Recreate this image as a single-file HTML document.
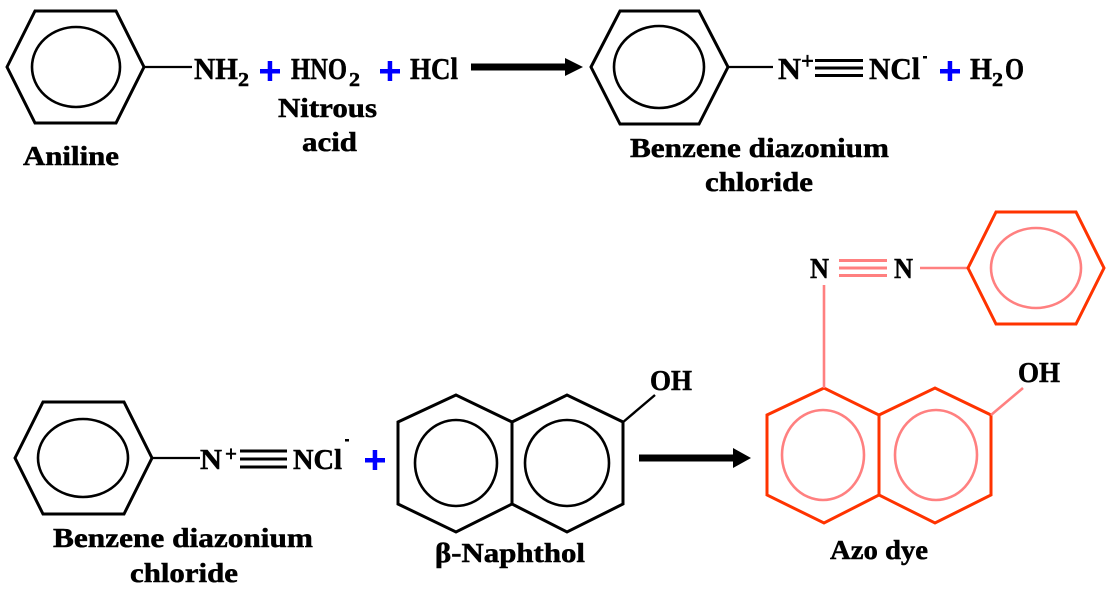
<!DOCTYPE html>
<html><head><meta charset="utf-8"><style>
html,body{margin:0;padding:0;background:#fff;}
svg{display:block;}
text{font-family:"Liberation Serif",serif;font-weight:bold;fill:#000;stroke:#000;stroke-width:0.5;}
</style></head><body>
<svg width="1117" height="596" viewBox="0 0 1117 596" xmlns="http://www.w3.org/2000/svg">
<!-- Aniline -->
<polygon points="7,67 35,11 116,11 144,67 116,123 35,123" fill="none" stroke="#000" stroke-width="3"/>
<ellipse cx="76" cy="67" rx="44" ry="40" fill="none" stroke="#000" stroke-width="2.6"/>
<line x1="144" y1="67" x2="192" y2="67" stroke="#000" stroke-width="2.2"/>
<text x="194" y="79" font-size="31" textLength="44" lengthAdjust="spacingAndGlyphs">NH</text>
<text x="238" y="86" font-size="20" textLength="11" lengthAdjust="spacingAndGlyphs">2</text>
<rect x="260" y="69" width="20" height="4.5" fill="#0000ff"/><rect x="267.7" y="61" width="4.5" height="20" fill="#0000ff"/>
<text x="291" y="79" font-size="31" textLength="56" lengthAdjust="spacingAndGlyphs">HNO</text>
<text x="349" y="86" font-size="20" textLength="11" lengthAdjust="spacingAndGlyphs">2</text>
<rect x="380" y="69" width="20" height="4.5" fill="#0000ff"/><rect x="387.7" y="61" width="4.5" height="20" fill="#0000ff"/>
<text x="410" y="79" font-size="31" textLength="48" lengthAdjust="spacingAndGlyphs">HCl</text>
<text x="278" y="117" font-size="27" textLength="99" lengthAdjust="spacingAndGlyphs">Nitrous</text>
<text x="302" y="151" font-size="27" textLength="55" lengthAdjust="spacingAndGlyphs">acid</text>
<text x="23" y="165" font-size="27" textLength="96" lengthAdjust="spacingAndGlyphs">Aniline</text>
<!-- arrow 1 -->
<line x1="471" y1="67" x2="567" y2="67" stroke="#000" stroke-width="7"/>
<polygon points="565,58 583,67 565,76" fill="#000"/>
<!-- Benzene diazonium top -->
<polygon points="591,67 620,11 699,11 728,67 699,124 620,124" fill="none" stroke="#000" stroke-width="3"/>
<ellipse cx="659" cy="67" rx="45" ry="41" fill="none" stroke="#000" stroke-width="2.6"/>
<line x1="728" y1="67" x2="773" y2="67" stroke="#000" stroke-width="2.2"/>
<text x="778" y="79" font-size="31" textLength="23" lengthAdjust="spacingAndGlyphs">N</text>
<text x="801" y="69" font-size="24" textLength="13" lengthAdjust="spacingAndGlyphs">+</text>
<line x1="815" y1="60.5" x2="863" y2="60.5" stroke="#000" stroke-width="3"/>
<line x1="815" y1="68" x2="863" y2="68" stroke="#000" stroke-width="3"/>
<line x1="815" y1="75.5" x2="863" y2="75.5" stroke="#000" stroke-width="3"/>
<text x="869" y="79" font-size="31" textLength="51" lengthAdjust="spacingAndGlyphs">NCl</text>
<rect x="923" y="56" width="4" height="2.5" fill="#000"/>
<rect x="940" y="69" width="20" height="4.5" fill="#0000ff"/><rect x="947.7" y="61" width="4.5" height="20" fill="#0000ff"/>
<text x="970" y="79" font-size="31" textLength="22" lengthAdjust="spacingAndGlyphs">H</text>
<text x="992" y="86" font-size="20" textLength="11" lengthAdjust="spacingAndGlyphs">2</text>
<text x="1005" y="79" font-size="31" textLength="19" lengthAdjust="spacingAndGlyphs">O</text>
<text x="630" y="157" font-size="27" textLength="259" lengthAdjust="spacingAndGlyphs">Benzene diazonium</text>
<text x="705" y="191" font-size="27" textLength="108" lengthAdjust="spacingAndGlyphs">chloride</text>
<!-- bottom benzene diazonium -->
<polygon points="15,458 43,402 124,402 152,458 124,514 43,514" fill="none" stroke="#000" stroke-width="3"/>
<ellipse cx="83" cy="458" rx="45" ry="39" fill="none" stroke="#000" stroke-width="2.6"/>
<line x1="152" y1="458" x2="200" y2="458" stroke="#000" stroke-width="2.2"/>
<text x="200" y="469" font-size="28" textLength="22" lengthAdjust="spacingAndGlyphs">N</text>
<text x="225" y="461" font-size="22" textLength="12" lengthAdjust="spacingAndGlyphs">+</text>
<line x1="240" y1="451" x2="287" y2="451" stroke="#000" stroke-width="3"/>
<line x1="240" y1="459" x2="287" y2="459" stroke="#000" stroke-width="3"/>
<line x1="240" y1="467" x2="287" y2="467" stroke="#000" stroke-width="3"/>
<text x="293" y="469" font-size="28" textLength="49" lengthAdjust="spacingAndGlyphs">NCl</text>
<rect x="345" y="439" width="4" height="2.5" fill="#000"/>
<rect x="365" y="458" width="20" height="4.5" fill="#0000ff"/><rect x="372.7" y="450" width="4.5" height="20" fill="#0000ff"/>
<text x="53" y="547" font-size="27" textLength="260" lengthAdjust="spacingAndGlyphs">Benzene diazonium</text>
<text x="130" y="582" font-size="27" textLength="108" lengthAdjust="spacingAndGlyphs">chloride</text>
<!-- beta-naphthol -->
<polygon points="456,395 398,422 398,504 456,532 512,504 512,422" fill="none" stroke="#000" stroke-width="3"/>
<polygon points="512,422 567,395 623,422 623,504 567,532 512,504" fill="none" stroke="#000" stroke-width="3"/>
<ellipse cx="456" cy="463" rx="41" ry="43" fill="none" stroke="#000" stroke-width="2.6"/>
<ellipse cx="567" cy="463" rx="42" ry="43" fill="none" stroke="#000" stroke-width="2.6"/>
<line x1="622" y1="423" x2="655" y2="395" stroke="#000" stroke-width="2.4"/>
<text x="650" y="390" font-size="28" textLength="42" lengthAdjust="spacingAndGlyphs">OH</text>
<text x="435" y="562" font-size="27" textLength="150" lengthAdjust="spacingAndGlyphs">β-Naphthol</text>
<!-- arrow 2 -->
<line x1="639" y1="458" x2="735" y2="458" stroke="#000" stroke-width="7"/>
<polygon points="733,448 751,458 733,468" fill="#000"/>
<!-- Azo dye -->
<polygon points="824,388 767,415 767,495 824,523 879,495 879,415" fill="none" stroke="#ff3300" stroke-width="3"/>
<polygon points="879,415 935,388 991,415 991,495 935,523 879,495" fill="none" stroke="#ff3300" stroke-width="3"/>
<ellipse cx="823" cy="455" rx="41" ry="45" fill="none" stroke="#ff8080" stroke-width="2.6"/>
<ellipse cx="936" cy="455" rx="41" ry="45" fill="none" stroke="#ff8080" stroke-width="2.6"/>
<line x1="991" y1="415" x2="1023" y2="388" stroke="#ff8080" stroke-width="2.6"/>
<text x="1018" y="382" font-size="28" textLength="42" lengthAdjust="spacingAndGlyphs">OH</text>
<line x1="824" y1="388" x2="824" y2="285" stroke="#ff8080" stroke-width="2.6"/>
<text x="810" y="278" font-size="29" textLength="19" lengthAdjust="spacingAndGlyphs">N</text>
<line x1="839" y1="260.5" x2="887" y2="260.5" stroke="#ff8080" stroke-width="3"/>
<line x1="839" y1="268" x2="887" y2="268" stroke="#ff8080" stroke-width="3"/>
<line x1="839" y1="275.5" x2="887" y2="275.5" stroke="#ff8080" stroke-width="3"/>
<text x="894" y="278" font-size="29" textLength="19" lengthAdjust="spacingAndGlyphs">N</text>
<line x1="920" y1="268" x2="968" y2="268" stroke="#ff8080" stroke-width="2.6"/>
<polygon points="968,268 996,212 1076,212 1104,268 1076,324 996,324" fill="none" stroke="#ff3300" stroke-width="3"/>
<ellipse cx="1036" cy="268" rx="45" ry="40" fill="none" stroke="#ff8080" stroke-width="2.6"/>
<text x="830" y="559" font-size="27" textLength="98" lengthAdjust="spacingAndGlyphs">Azo dye</text>
</svg>
</body></html>
